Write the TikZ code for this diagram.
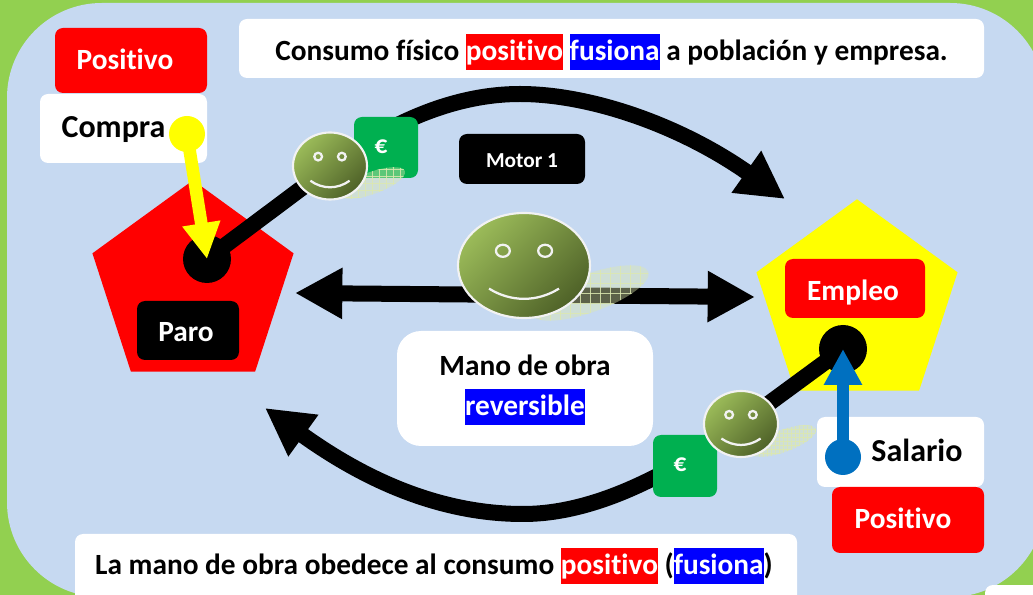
\documentclass[tikz,border=0pt]{standalone}
\usepackage{fontspec}
\setmainfont{Carlito}[Ligatures=NoCommon]
\usetikzlibrary{shapes.geometric,arrows.meta}
\definecolor{bggreen}{HTML}{92D050}
\definecolor{bgblue}{HTML}{C6D9F1}
\definecolor{eurogreen}{HTML}{00B050}
\definecolor{dotblue}{HTML}{0070C0}
\definecolor{faceA}{HTML}{9BBB59}
\definecolor{faceB}{HTML}{4F6228}
\definecolor{shadowc}{HTML}{DCE8B0}
\definecolor{pureyellow}{RGB}{255,255,0}
\definecolor{purered}{RGB}{255,0,0}
\definecolor{pureblue}{RGB}{0,0,255}
\newcommand\hlword[2]{{\setlength{\fboxsep}{0pt}\colorbox{#1}{\rule[-7.5pt]{0pt}{27pt}\textcolor{white}{#2}}}}
% dx, dy in reference pixels from the node centre to the text's centre and baseline
\newcommand\placed[3]{\raisebox{\dimexpr -#2pt*3/4-1pt\relax}[0pt][0pt]{\makebox[0pt]{\hspace*{\dimexpr #1pt*3/2\relax}#3}}}
\newcommand\facenode[5]{%
  \begin{scope}[shift={(#2,#3)},x=#4*.75pt,y=-#5*.75pt]
    \node[face,minimum width=#4*1.5pt,minimum height=#5*1.5pt] (#1) at (0,0) {};
    \draw[facestroke] (-.32,-.28) circle[x radius=.105,y radius=.115];
    \draw[facestroke] (.32,-.28) circle[x radius=.105,y radius=.115];
    \draw[facestroke] (-.53,.44) .. controls (-.2,.70) and (.2,.70) .. (.53,.44);
  \end{scope}}
\newcommand\shadowgrid[6]{% cx cy rx ry angle step
  \begin{scope}
    \path[clip,rotate around={#5:(#1,#2)}] (#1,#2) ellipse[x radius=#3,y radius=#4];
    \fill[shadowc,fill opacity=.42] (#1-#3,#2-#3) rectangle (#1+#3,#2+#3);
    \foreach \k in {-8,...,8}{
      \draw[shadowc,line width=.45pt,opacity=.85] (#1+\k*#6,#2-#3) -- (#1+\k*#6,#2+#3);
      \draw[shadowc,line width=.45pt,opacity=.85] (#1-#3,#2+\k*#6) -- (#1+#3,#2+\k*#6);
    }
  \end{scope}}
\tikzset{
  size/.style 2 args={minimum width=#1*.75pt,minimum height=#2*.75pt},
  box/.style={rounded corners=6pt,inner sep=0pt,outer sep=0pt,font=\bfseries\fontsize{22pt}{26pt}\selectfont},
  whitebox/.style={box,fill=white,text=black},
  redbox/.style={box,fill=purered,text=white},
  blackbox/.style={box,fill=black,text=white},
  eurobox/.style={box,fill=eurogreen,text=white,font=\bfseries\fontsize{19pt}{22pt}\selectfont},
  penta/.style={regular polygon,regular polygon sides=5,minimum size=158.6pt,inner sep=0pt,outer sep=0pt},
  disc/.style={circle,inner sep=0pt,outer sep=0pt},
  face/.style={ellipse,draw=white!95!black,line width=1.6pt,inner sep=0pt,outer sep=0pt,top color=faceA,bottom color=faceB,shading angle=45},
  facestroke/.style={draw=white!95!black,line width=1.7pt},
  conn/.style={draw=black,line width=12pt},
  bigtip/.style={-{Triangle[length=35.5pt,width=36pt]}},
  ptr/.style={line width=9.5pt,-{Triangle[length=27pt,width=27pt]}}
}
\begin{document}
\begin{tikzpicture}[x=.75pt,y=-.75pt]
\useasboundingbox (0,0) rectangle (1033,595);
\clip (0,0) rectangle (1033,595);
\fill[bggreen] (0,0) rectangle (1033,595);
\fill[bgblue,rounded corners=71pt] (7,3) rectangle (1045,597);
\node[whitebox,size={70}{30},anchor=north west] (corner) at (985,585) {};

\node[penta,fill=purered] (paroP) at (193,286) {};
\node[penta,fill=pureyellow] (empleoP) at (857,305) {};

\node[disc,fill=black,minimum size=36pt] (discL) at (207,259) {};
\node[disc,fill=black,minimum size=36pt] (discR) at (843,349) {};

\coordinate (topEnd) at (785,199);
\coordinate (botEnd) at (265,408);
\coordinate (midL) at (295,293);
\coordinate (midR) at (755,297);

\draw[conn,bigtip] (discL.center) -- (330,167) .. controls (390,122) and (455,94) .. (520,94)
   .. controls (590,94) and (680,125) .. (topEnd);
\draw[conn,bigtip] (discR.center) -- (730,432) .. controls (660,480) and (590,514) .. (523,514)
   .. controls (440,514) and (365,480) .. (botEnd);
\draw[conn,{Triangle[length=35.5pt,width=36pt]}-{Triangle[length=35.5pt,width=36pt]}] (midL) -- (midR);

\node[redbox,size={152}{65}] (posA) at (131,60.5) {\placed{-6}{7.5}{Positivo}};
\node[whitebox,size={167}{69},font=\bfseries\fontsize{24pt}{28pt}\selectfont] (compra) at (123.5,128.5) {\placed{-10}{8}{Compra}};
\node[whitebox,size={745}{59}] (title) at (611.5,48.5)
  {\placed{0}{10.5}{Consumo físico \hlword{purered}{positivo} \hlword{pureblue}{fusiona} a población y empresa.}};
\node[blackbox,size={126}{50},font=\bfseries\fontsize{16pt}{19pt}\selectfont] (motor) at (522,159) {\placed{0}{7}{Motor 1}};
\node[blackbox,size={102}{59}] (paro) at (188,330.5) {\placed{-2}{9.5}{Paro}};
\node[redbox,size={140}{59}] (empleo) at (855,288.5) {\placed{-2}{11}{Empleo}};
\node[whitebox,rounded corners=18pt,size={256}{115}] (mano) at (525,388.5)
  {\placed{0}{-14.5}{Mano de obra}\placed{0}{25.5}{\hlword{pureblue}{reversible}}};
\node[whitebox,size={167}{70},font=\bfseries\fontsize{24pt}{28pt}\selectfont] (salario) at (900.5,452) {\placed{16.5}{8}{Salario}};
\node[redbox,size={152}{66}] (posB) at (908,520) {\placed{-5}{7}{Positivo}};
\node[whitebox,size={722}{80}] (foot) at (436,574)
  {\placed{-2}{-1}{La mano de obra obedece al consumo \hlword{purered}{positivo} (\hlword{pureblue}{fusiona})}};

\node[eurobox,size={64}{61}] (euroA) at (386,147.5) {\placed{-5}{5}{€}};
\node[eurobox,size={64}{62}] (euroB) at (685,466) {\placed{-5}{4.5}{€}};

\shadowgrid{372}{183}{35}{11}{20}{7}
\shadowgrid{783}{441}{35}{11}{20}{4}
\shadowgrid{590}{293}{62}{19}{20}{10}

\facenode{faceA}{330}{166}{37}{33.5}
\facenode{faceB}{741}{424}{37}{33}
\facenode{faceC}{524}{265.5}{66}{52.5}

\node[disc,fill=pureyellow,minimum size=27pt] (dotY) at (187,134) {};
\node[disc,fill=dotblue,minimum size=27pt] (dotB) at (843,457) {};
\draw[pureyellow,ptr] (dotY.center) -- (discL.center);
\draw[dotblue,ptr] (dotB.center) -- (discR.center);
\end{tikzpicture}
\end{document}
